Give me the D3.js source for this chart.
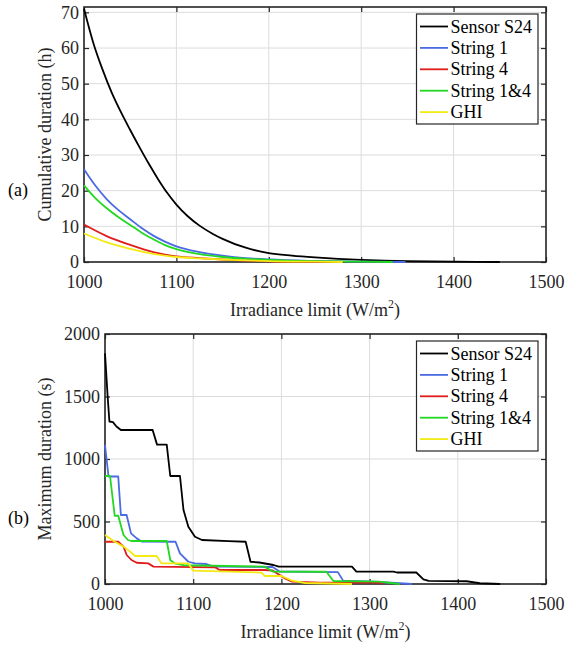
<!DOCTYPE html>
<html>
<head>
<meta charset="utf-8">
<script src="https://cdn.jsdelivr.net/npm/d3@7/dist/d3.min.js"></script>
<style>
  body { margin: 0; background: #fff; }
  text { font-family: 'Liberation Serif', 'Times New Roman', 'DejaVu Serif', serif !important; }
</style>
</head>
<body>
<script>
const width = 567
const height = 648

// series names and colours (legend order)
const seriesNames = ['Sensor S24', 'String 1', 'String 4', 'String 1&4', 'GHI']
const seriesColors = ['#000000', '#4b6be3', '#e01c1c', '#22d822', '#f2ea12']

// x ticks shared by both panels
const xTicks = [1000, 1100, 1200, 1300, 1400, 1500]
const yTicksA = [0, 10, 20, 30, 40, 50, 60, 70]
const yTicksB = [0, 500, 1000, 1500, 2000]

// (a) cumulative duration in hours, [irradiance, h]
const cumS24 = [[1000, 71], [1010, 61.5], [1020, 54], [1030, 47.5], [1040, 42], [1050, 37], [1060, 32.2], [1070, 27.6], [1080, 23.3], [1090, 19.4], [1100, 16.1], [1112, 12.9], [1125, 10.2], [1140, 7.8], [1150, 6.5], [1175, 4], [1200, 2.5], [1225, 1.8], [1250, 1.3], [1275, 0.9], [1300, 0.6], [1325, 0.4], [1350, 0.25], [1375, 0.15], [1400, 0.08], [1425, 0.03], [1450, 0]]
const cumStr1 = [[1000, 26], [1012, 21.5], [1025, 17.5], [1037, 14.6], [1050, 12], [1062, 9.6], [1075, 7.4], [1087, 5.8], [1100, 4.4], [1125, 2.8], [1150, 1.8], [1175, 1.1], [1200, 0.7], [1250, 0.3], [1300, 0.1], [1348, 0]]
const cumStr4 = [[1000, 10.5], [1025, 7.2], [1050, 4.8], [1075, 2.8], [1100, 1.6], [1125, 1.1], [1150, 0.7], [1175, 0.4], [1200, 0.2], [1250, 0.05], [1280, 0]]
const cumStr14 = [[1000, 21.5], [1012, 18], [1025, 15], [1037, 12.6], [1050, 10.4], [1062, 8.3], [1075, 6.4], [1087, 4.8], [1100, 3.6], [1125, 2.2], [1150, 1.4], [1175, 0.9], [1200, 0.6], [1250, 0.25], [1300, 0.08], [1334, 0]]
const cumGHI = [[1000, 8], [1025, 5.5], [1050, 3.7], [1075, 2.3], [1100, 1.4], [1125, 1.0], [1150, 0.7], [1175, 0.45], [1200, 0.25], [1250, 0.08], [1280, 0]]

// (b) maximum duration in seconds, [irradiance, s]
const maxS24 = [[1000, 1845], [1003, 1500], [1005, 1300], [1009, 1295], [1013, 1260], [1018, 1232], [1054, 1232], [1059, 1115], [1070, 1115], [1074, 864], [1085, 864], [1089, 592], [1094.5, 458], [1102, 378], [1110, 352], [1140, 343], [1159.5, 338], [1165, 178], [1175, 172], [1191, 152], [1197, 139], [1280, 139], [1285, 99], [1327, 99], [1331, 92], [1353, 92], [1361, 37], [1367, 25], [1410, 22], [1425, 6], [1448, 0]]
const maxStr1 = [[1000, 1112], [1004, 860], [1015, 860], [1018, 552], [1024.5, 552], [1029.5, 405], [1036, 365], [1041.5, 340], [1080, 338], [1085, 245], [1094.5, 178], [1102, 165], [1115, 160], [1123, 139], [1190, 136], [1198, 100], [1264, 95], [1270, 27], [1311, 16], [1348, 0]]
const maxStr4 = [[1000, 338], [1015, 338], [1021, 299], [1024.6, 232], [1030, 192], [1036, 170], [1049, 165], [1055, 139], [1125, 133], [1130, 112], [1181, 112], [1190, 108], [1204, 45], [1212, 19], [1244, 11], [1311, 11], [1315, 0]]
const maxStr14 = [[1000, 864], [1005.7, 864], [1011, 546], [1015, 546], [1021, 392], [1026, 352], [1030, 344], [1070, 344], [1074, 192], [1079, 165], [1090, 150], [1181, 139], [1190, 100], [1251, 98], [1259, 24], [1311, 19], [1334, 0]]
const maxGHI = [[1000, 392], [1011, 338], [1021, 299], [1028.5, 259], [1034, 224], [1058.6, 224], [1064, 165], [1094.5, 165], [1100, 107], [1177.6, 91], [1181, 64], [1200, 64], [1212, 27], [1227, 8], [1280, 0]]

const cumSeries = [cumS24, cumStr1, cumStr4, cumStr14, cumGHI]
const maxSeries = [maxS24, maxStr1, maxStr4, maxStr14, maxGHI]

const svg = d3.select('body').append('svg').attr('width', width).attr('height', height)

function panel(box, yDomain, yTicks, series, curve, yLabel, tagText, tagY, legendTop) {
	const x = d3.scaleLinear().domain([1000, 1500]).range([box.left, box.right])
	const y = d3.scaleLinear().domain(yDomain).range([box.bottom, box.top])
	const w = box.right - box.left
	const h = box.bottom - box.top

	// grid
	const grid = svg.append('g').attr('stroke', '#dcdcdc').attr('stroke-width', 1)
	xTicks.forEach(function (t) {
		grid.append('line').attr('x1', x(t)).attr('x2', x(t)).attr('y1', box.top).attr('y2', box.bottom)
	})
	yTicks.forEach(function (t) {
		grid.append('line').attr('x1', box.left).attr('x2', box.right).attr('y1', y(t)).attr('y2', y(t))
	})

	// axes with inward ticks
	const gx = svg.append('g').attr('transform', 'translate(0,' + box.bottom + ')')
		.call(d3.axisBottom(x).tickValues(xTicks).tickSize(-5).tickPadding(13.5).tickFormat(d3.format('d')))
	const gy = svg.append('g').attr('transform', 'translate(' + box.left + ',0)')
		.call(d3.axisLeft(y).tickValues(yTicks).tickSize(-5).tickPadding(5).tickFormat(d3.format('d')))
	svg.append('g').attr('transform', 'translate(0,' + box.top + ')')
		.call(d3.axisTop(x).tickValues(xTicks).tickSize(-5).tickFormat(''))
	svg.append('g').attr('transform', 'translate(' + box.right + ',0)')
		.call(d3.axisRight(y).tickValues(yTicks).tickSize(-5).tickFormat(''))
	svg.selectAll('.domain').remove()
	svg.selectAll('.tick line').attr('stroke', '#262626').attr('stroke-width', 1.2)
	;[gx, gy].forEach(function (g) {
		g.selectAll('text').attr('font-size', 18).attr('fill', '#262626')
	})

	svg.append('rect').attr('x', box.left).attr('y', box.top).attr('width', w).attr('height', h)
		.attr('fill', 'none').attr('stroke', '#262626').attr('stroke-width', 1.6)

	// data lines
	const line = d3.line().curve(curve).x(function (d) { return x(d[0]) }).y(function (d) { return y(d[1]) })
	series.forEach(function (s, i) {
		svg.append('path').datum(s).attr('d', line).attr('fill', 'none')
			.attr('stroke', seriesColors[i]).attr('stroke-width', 1.8).attr('stroke-linejoin', 'round')
	})

	// axis titles
	const xl = svg.append('text').attr('x', (box.left + box.right) / 2).attr('y', box.bottom + 54)
		.attr('text-anchor', 'middle').attr('font-size', 18).attr('fill', '#262626')
	xl.append('tspan').text('Irradiance limit (W/m')
	xl.append('tspan').attr('font-size', 12).attr('dy', -8).text('2')
	xl.append('tspan').attr('dy', 8).text(')')

	svg.append('text').attr('transform', 'translate(' + 51 + ',' + (box.top + box.bottom) / 2 + ') rotate(-90)')
		.attr('text-anchor', 'middle').attr('font-size', 18).attr('fill', '#262626').text(yLabel)
	svg.append('text').attr('x', 8).attr('y', tagY).attr('font-size', 18).attr('fill', '#000').text(tagText)

	// legend
	const lg = svg.append('g')
	lg.append('rect').attr('x', 416.5).attr('y', legendTop).attr('width', 121.5).attr('height', 110)
		.attr('fill', '#fff').attr('stroke', '#262626').attr('stroke-width', 1.2)
	seriesNames.forEach(function (name, i) {
		const cy = legendTop + 12.5 + i * 21.4
		lg.append('line').attr('x1', 420).attr('x2', 448).attr('y1', cy).attr('y2', cy)
			.attr('stroke', seriesColors[i]).attr('stroke-width', 1.8)
		lg.append('text').attr('x', 450.5).attr('y', cy + 6).attr('font-size', 18).attr('fill', '#000').text(name)
	})
}

panel({ left: 84, right: 546, top: 7, bottom: 262 }, [0, 71.5], yTicksA, cumSeries, d3.curveMonotoneX, 'Cumulative duration (h)', '(a)', 196, 14)
panel({ left: 105, right: 546, top: 334, bottom: 584 }, [0, 2000], yTicksB, maxSeries, d3.curveLinear, 'Maximum duration (s)', '(b)', 524, 341)
</script>
</body>
</html>
